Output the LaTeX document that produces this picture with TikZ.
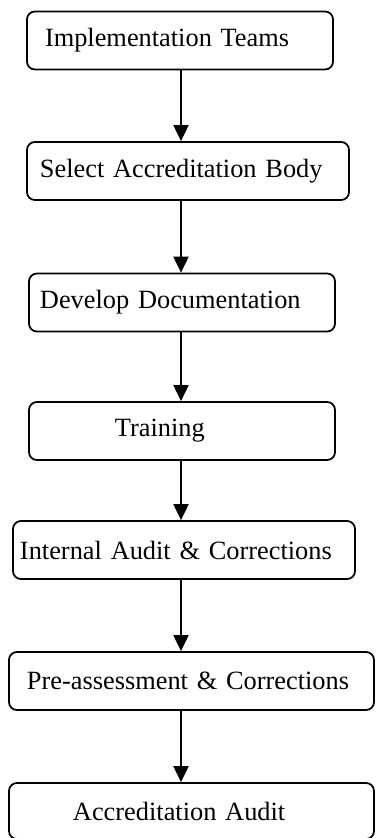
\documentclass[tikz,border=0pt]{standalone}
\usepackage{fontspec}
\setmainfont{Liberation Serif}
\usetikzlibrary{arrows.meta, positioning}

\begin{document}
\begin{tikzpicture}[
  every node/.style={font=\fontsize{15}{18}\selectfont},
  stage/.style={draw=black, line width=1pt, rounded corners=4.5pt, minimum height=1.16cm, inner xsep=0pt, inner ysep=0pt, align=left},
  arrow/.style={-{Triangle[length=0.32cm, width=0.3cm]}, line width=1.1pt}
]
  \useasboundingbox (0,0) rectangle (7.5,-16.76);

  \node[stage, text width=6.12cm] (teams) at (3.60,-0.81) {\hspace*{0.36cm}Implementation Teams};
  \node[stage, text width=6.44cm] (body) at (3.76,-3.42) {\hspace*{0.26cm}Select Accreditation Body};
  \node[stage, text width=6.12cm] (docs) at (3.64,-6.05) {\hspace*{0.22cm}Develop Documentation};
  \node[stage, text width=6.12cm] (train) at (3.64,-8.62) {\hspace*{1.72cm}Training};
  \node[stage, text width=6.84cm] (internal) at (3.68,-11.00) {\hspace*{0.14cm}Internal Audit \& Corrections};
  \node[stage, text width=7.30cm] (preassess) at (3.83,-13.62) {\hspace*{0.36cm}Pre-assessment \& Corrections};
  \node[stage, text width=7.30cm, minimum height=1.12cm] (audit) at (3.83,-16.22) {\hspace*{1.28cm}Accreditation Audit};

  \coordinate (col) at (3.62,0);

  \draw[arrow] (teams.south -| col) -- (body.north -| col);
  \draw[arrow] (body.south -| col) -- (docs.north -| col);
  \draw[arrow] (docs.south -| col) -- (train.north -| col);
  \draw[arrow] (train.south -| col) -- (internal.north -| col);
  \draw[arrow] (internal.south -| col) -- (preassess.north -| col);
  \draw[arrow] (preassess.south -| col) -- (audit.north -| col);

\end{tikzpicture}
\end{document}
